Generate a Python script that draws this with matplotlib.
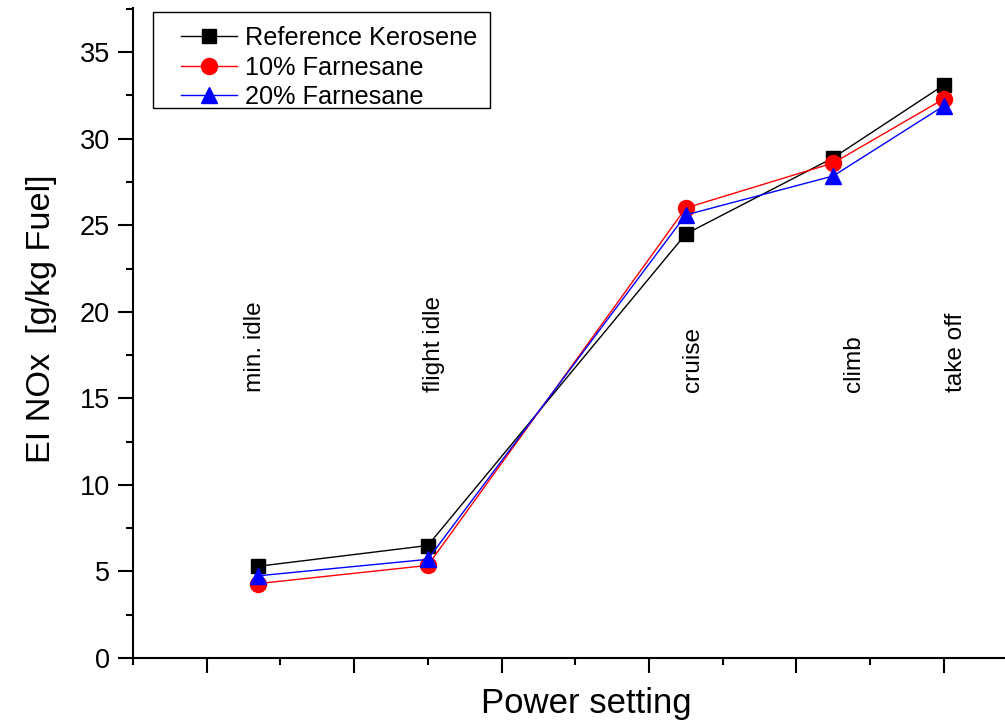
import matplotlib
matplotlib.use("Agg")
import matplotlib.pyplot as plt
from matplotlib.ticker import MultipleLocator, NullFormatter
from matplotlib.legend_handler import HandlerLine2D
from matplotlib.patches import Rectangle

plt.rcParams['font.family'] = ['Liberation Sans', 'DejaVu Sans']

# Data
power_labels = ["min. idle", "flight idle", "cruise", "climb", "take off"]
power_x = [7, 30, 65, 85, 100]
kerosene = [5.3, 6.5, 24.5, 28.9, 33.1]
farnesane10 = [4.3, 5.35, 26.0, 28.6, 32.3]
farnesane20 = [4.75, 5.7, 25.6, 27.85, 31.9]
label_x = [6.5, 30.9, 66.0, 87.8, 101.7]
label_y = 15.35


class ShiftedHandler(HandlerLine2D):
    """Line handle that leaves empty room on its left side."""
    def __init__(self, frac=0.2, **kw):
        super().__init__(**kw)
        self.frac = frac

    def create_artists(self, legend, orig_handle, xdescent, ydescent,
                       width, height, fontsize, trans):
        shift = self.frac * width
        return super().create_artists(legend, orig_handle, xdescent - shift,
                                      ydescent, width - shift, height,
                                      fontsize, trans)


fig = plt.figure(figsize=(10.05, 7.27), dpi=100)
ax = fig.add_axes([0.1323, 0.0949, 0.8677, 0.894])

l1, = ax.plot(power_x, kerosene, color='black', lw=1.0, marker='s', ms=10,
              label='Reference Kerosene')
l2, = ax.plot(power_x, farnesane10, color='red', lw=1.0, marker='o', ms=11.5,
              label='10% Farnesane')
l3, = ax.plot(power_x, farnesane20, color='blue', lw=1.0, marker='^', ms=12,
              label='20% Farnesane')

for lx, txt in zip(label_x, power_labels):
    ax.text(lx, label_y, txt, rotation=90, ha='center', va='bottom',
            fontsize=17.6)

ax.set_xlim(-10, 108.3)
ax.set_ylim(0, 37.55)
ax.xaxis.set_major_locator(MultipleLocator(20))
ax.xaxis.set_minor_locator(MultipleLocator(10))
ax.xaxis.set_major_formatter(NullFormatter())
ax.yaxis.set_major_locator(MultipleLocator(5))
ax.yaxis.set_minor_locator(MultipleLocator(2.5))

for s in ['top', 'right']:
    ax.spines[s].set_visible(False)
for s in ['left', 'bottom']:
    ax.spines[s].set_linewidth(1.5)

ax.tick_params(axis='both', which='major', direction='out', length=10.5,
               width=1.5, labelsize=19.5, pad=6)
ax.tick_params(axis='both', which='minor', direction='out', length=5,
               width=1.5)

ax.set_ylabel('EI NOx  [g/kg Fuel]', fontsize=24.7)
ax.yaxis.set_label_coords(-0.0872, 0.5215)
ax.set_xlabel('Power setting', fontsize=25)
ax.xaxis.set_label_coords(0.5195, -0.0446)

handler = ShiftedHandler(frac=0.2)
leg = ax.legend(handles=[l1, l2, l3], loc='upper left',
                bbox_to_anchor=(0.0233, 0.9923), borderaxespad=0,
                fontsize=18.2, frameon=False,
                handlelength=2.8, borderpad=0.52,
                labelspacing=0.21, handletextpad=0.3,
                handler_map={l1: handler, l2: handler, l3: handler})

# legend frame (drawn separately to match the reference's asymmetric padding)
ax.add_patch(Rectangle((0.0233, 0.8462), 0.3861, 0.1481,
                       transform=ax.transAxes, fill=False,
                       edgecolor='black', lw=1.0, clip_on=False, zorder=5))

fig.savefig('out.png', dpi=100)
